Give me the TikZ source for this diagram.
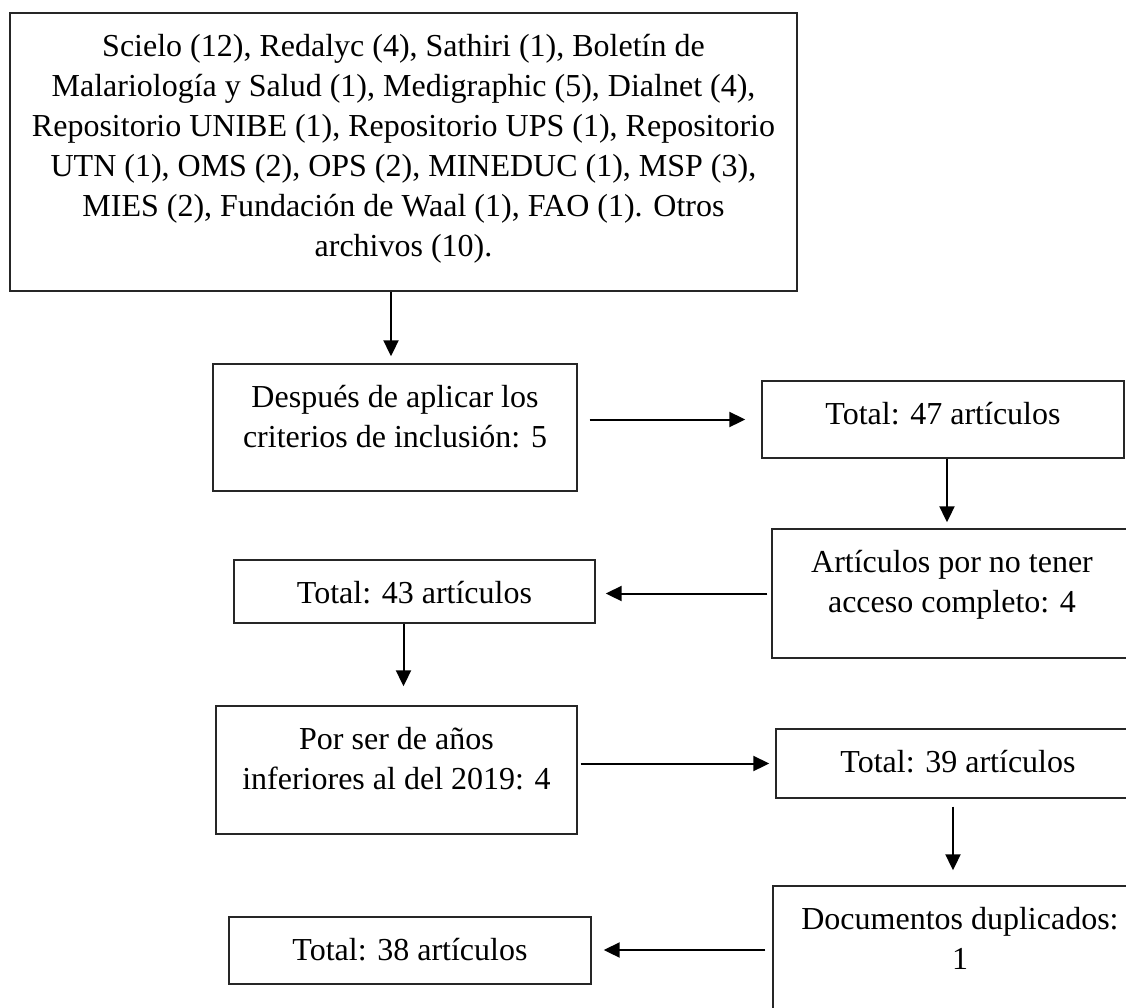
\documentclass[tikz,border=0pt]{standalone}
\usepackage{fontspec}
\setmainfont{Liberation Serif}
\usepackage{tikz}
\usetikzlibrary{arrows.meta}
\usetikzlibrary{calc}
\newcommand{\textocaja}[3]{\parbox[c][#2][t]{#1}{\centering\vspace*{7.5pt}\strut #3}}

\begin{document}
\begin{tikzpicture}[x=0.5pt,y=-0.5pt,
	caja/.style={draw=black!85, line width=0.7pt, inner sep=0pt, font=\fontsize{16}{20}\selectfont},
	flecha/.style={-{Triangle[length=8pt,width=7.5pt]}, line width=1pt}]
		%% page of the same size as the reference, boxes on the right run off the edge
		\useasboundingbox (0,0) rectangle (1126,1008);
		\clip (0,0) rectangle (1126,1008);
		\node[caja] (fuentes) at (403.5,152) {\textocaja{393.5pt}{139pt}{Scielo (12), Redalyc (4), Sathiri (1), Boletín de\\ Malariología y Salud (1), Medigraphic (5), Dialnet (4),\\ Repositorio UNIBE (1), Repositorio UPS (1), Repositorio\\ UTN (1), OMS (2), OPS (2), MINEDUC (1), MSP (3),\\ MIES (2), Fundación de Waal (1), FAO (1). Otros\\ archivos (10).}};
		\node[caja] (criterios) at (395,427.5) {\textocaja{182pt}{63.5pt}{Después de aplicar los\\ criterios de inclusión: 5}};
		\node[caja] (total47) at (943,419.5) {\textocaja{181pt}{38.5pt}{Total: 47 artículos}};
		\node[caja] (acceso) at (952,593.5) {\textocaja{180pt}{64.5pt}{Artículos por no tener\\ acceso completo: 4}};
		\node[caja] (total43) at (414.5,591.5) {\textocaja{180.5pt}{31.5pt}{Total: 43 artículos}};
		\node[caja] (anios) at (396.5,770) {\textocaja{180.5pt}{64pt}{Por ser de años\\ inferiores al del 2019: 4}};
		\node[caja] (total39) at (958,763.5) {\textocaja{182pt}{34.5pt}{Total: 39 artículos}};
		\node[caja] (duplicados) at (960,950) {\textocaja{187pt}{64pt}{Documentos duplicados:\\ 1}};
		\node[caja] (total38) at (410,950.5) {\textocaja{181pt}{33.5pt}{Total: 38 artículos}};
		%% arrows between the boxes
		\draw[flecha, shorten >=3.5pt] ([xshift=-2pt]criterios.north |- fuentes.south) -- ([xshift=-2pt]criterios.north);
		\draw[flecha, shorten <=6pt, shorten >=8pt] (criterios.east |- total47.west) -- (total47.west);
		\draw[flecha, shorten >=3pt] ([xshift=2pt]total47.south) -- ([xshift=2pt]total47.south |- acceso.north);
		\draw[flecha, shorten <=2pt, shorten >=5pt] (acceso.west) -- (acceso.west -| total43.east);
		\draw[flecha, shorten >=9.5pt] ([xshift=-5.5pt]total43.south) -- ([xshift=-5.5pt]total43.south |- anios.north);
		\draw[flecha, shorten <=1.5pt, shorten >=3pt] (anios.east |- total39.west) -- (total39.west);
		\draw[flecha, shorten <=4pt, shorten >=7.5pt] ([xshift=-2.5pt]total39.south) -- ([xshift=-2.5pt]total39.south |- duplicados.north);
		\draw[flecha, shorten <=3.5pt, shorten >=6pt] (duplicados.west) -- (duplicados.west -| total38.east);
	\end{tikzpicture}
\end{document}
